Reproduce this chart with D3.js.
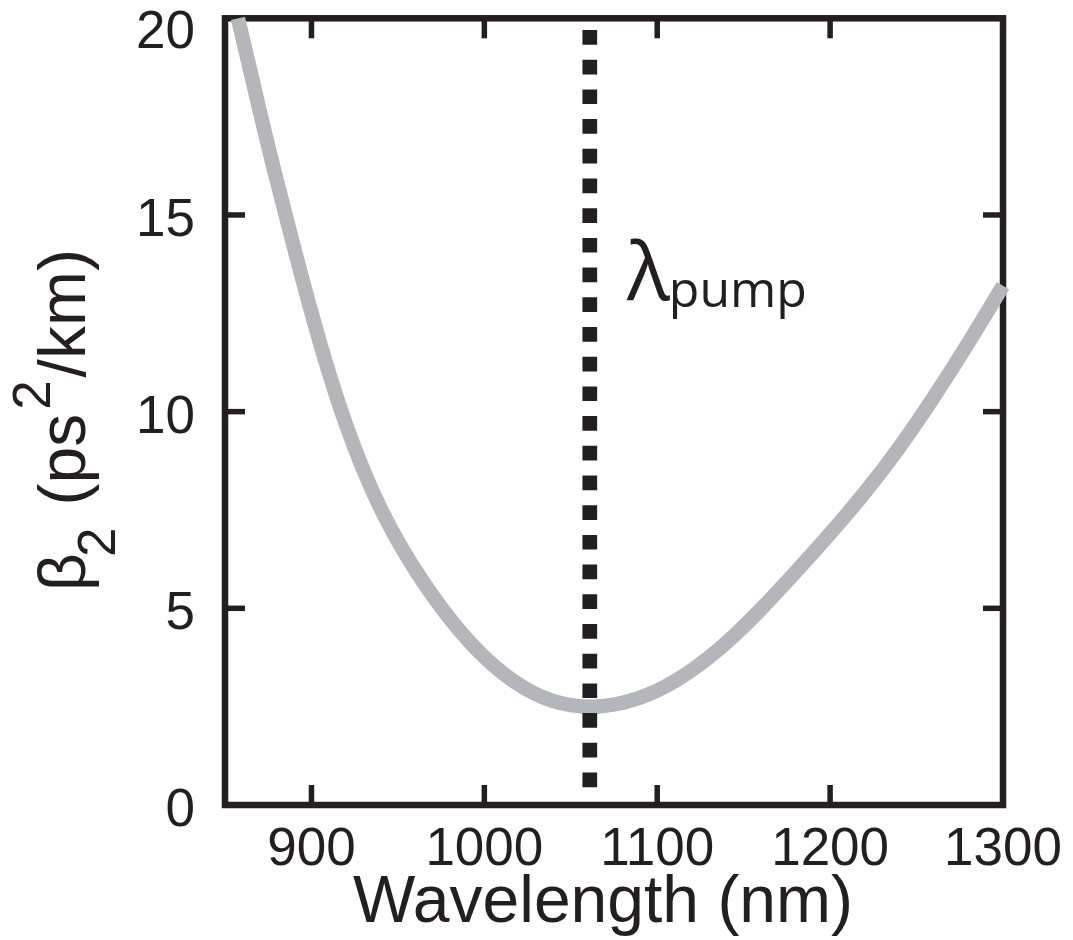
<!DOCTYPE html>
<html>
<head>
<meta charset="utf-8">
<script src="https://cdn.jsdelivr.net/npm/d3@7"></script>
<style>
  html, body { margin: 0; padding: 0; background: #ffffff; }
  svg { display: block; }
</style>
</head>
<body>
<svg id="chart" width="1073" height="940"></svg>
<script>
// ---- data ----
const wavelength = [857.5, 870, 880, 900, 920, 940, 960, 980, 1000, 1020, 1040, 1060, 1080, 1100, 1120, 1140, 1160, 1180, 1200, 1220, 1240, 1260, 1280, 1300];
const beta2      = [20.0, 17.66, 15.87, 12.52, 9.67, 7.54, 5.98, 4.74, 3.76, 3.06, 2.64, 2.5, 2.6, 2.91, 3.43, 4.13, 4.98, 5.92, 6.9, 7.94, 9.09, 10.37, 11.75, 13.2];
const pumpWavelength = 1061;
const xTicks = [900, 1000, 1100, 1200, 1300];
const yTicks = [0, 5, 10, 15, 20];
const xDomain = [850, 1300];
const yDomain = [0, 20];

// ---- layout ----
const plotL = 225, plotR = 1003, plotT = 18.3, plotB = 805;
const ink = "#231f20";
const svg = d3.select("#chart");

const x = d3.scaleLinear().domain(xDomain).range([plotL, plotR]);
const y = d3.scaleLinear().domain(yDomain).range([plotB, plotT]);

const points = wavelength.map((w, i) => ({ w, b: beta2[i] }));
const line = d3.line().x(d => x(d.w)).y(d => y(d.b)).curve(d3.curveNatural);

const tickLen = 20;
const xInner = xTicks.filter(t => t > xDomain[0] && t < xDomain[1]);
const yInner = yTicks.filter(t => t > yDomain[0] && t < yDomain[1]);

const gTicks = svg.append("g").attr("stroke", ink).attr("stroke-width", 5.5);
gTicks.selectAll(".xb").data(xInner).join("line").attr("class", "xb")
  .attr("x1", d => x(d)).attr("x2", d => x(d))
  .attr("y1", plotB).attr("y2", plotB - tickLen);
gTicks.selectAll(".xt").data(xInner).join("line").attr("class", "xt")
  .attr("x1", d => x(d)).attr("x2", d => x(d))
  .attr("y1", plotT).attr("y2", plotT + tickLen);
gTicks.selectAll(".yl").data(yInner).join("line").attr("class", "yl")
  .attr("y1", d => y(d)).attr("y2", d => y(d))
  .attr("x1", plotL).attr("x2", plotL + tickLen);
gTicks.selectAll(".yr").data(yInner).join("line").attr("class", "yr")
  .attr("y1", d => y(d)).attr("y2", d => y(d))
  .attr("x1", plotR).attr("x2", plotR - tickLen);

svg.append("rect")
  .attr("x", plotL).attr("y", plotT)
  .attr("width", plotR - plotL).attr("height", plotB - plotT)
  .attr("fill", "none").attr("stroke", ink).attr("stroke-width", 6.5)
  .attr("stroke-linejoin", "miter");

// curve
svg.append("path")
  .datum(points)
  .attr("d", line)
  .attr("fill", "none")
  .attr("stroke", "#b4b6b9")
  .attr("stroke-width", 14.5)
  .attr("stroke-linecap", "butt");

// pump line (dotted)
svg.append("line")
  .attr("x1", x(pumpWavelength)).attr("x2", x(pumpWavelength))
  .attr("y1", 30).attr("y2", plotB)
  .attr("stroke", ink).attr("stroke-width", 14.7)
  .attr("stroke-dasharray", "14.7,15");

// tick labels
const fontTick = "'Liberation Sans', Arial, Helvetica, sans-serif";
svg.append("g").selectAll("text").data(xTicks).join("text")
  .attr("x", d => x(d)).attr("y", 865)
  .attr("text-anchor", "middle")
  .attr("font-family", fontTick).attr("font-size", 53).attr("fill", ink)
  .text(d => d);

svg.append("g").selectAll("text").data(yTicks).join("text")
  .attr("x", 195).attr("y", d => Math.max(y(d) + 21, 48))
  .attr("text-anchor", "end")
  .attr("font-family", fontTick).attr("font-size", 53).attr("fill", ink)
  .text(d => d);

// x title
svg.append("text")
  .attr("x", 603).attr("y", 922)
  .attr("text-anchor", "middle")
  .attr("font-family", fontTick).attr("font-size", 66).attr("fill", ink)
  .text("Wavelength (nm)");

// y title
const yt = svg.append("text")
  .attr("transform", "translate(85,591) rotate(-90)")
  .attr("text-anchor", "start")
  .attr("font-family", fontTick).attr("font-size", 66).attr("fill", ink);
yt.append("tspan").text("β");
yt.append("tspan").attr("dy", 30).attr("dx", -4).attr("font-size", 53).text("2");
yt.append("tspan").attr("dy", -30).attr("dx", 22).text("(ps");
yt.append("tspan").attr("dy", -35).attr("dx", 4).attr("font-size", 53).text("2");
yt.append("tspan").attr("dy", 35).attr("dx", 3).text("/km)");

// lambda pump label
const lp = svg.append("text")
  .attr("x", 627).attr("y", 300)
  .attr("font-family", "'Open Sans', 'Noto Sans', sans-serif").attr("fill", ink);
lp.append("tspan").attr("font-size", 80).text("λ");
lp.append("tspan").attr("font-size", 50).attr("dy", 7).attr("dx", -1).text("pump");
</script>
</body>
</html>
